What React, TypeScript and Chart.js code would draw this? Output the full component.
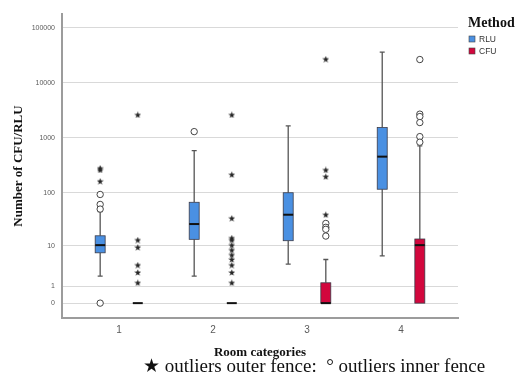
import React, { useEffect, useRef } from 'react';
import { Chart, registerables } from 'chart.js';
Chart.register(...registerables);

// ---- data ----
const categories = [1, 2, 3, 4];
const categoryLabels = ['1', '2', '3', '4'];
const yTickValues = [0, 1, 10, 100, 1000, 10000, 100000];
const seriesNames = ['RLU', 'CFU'];
const seriesColors = ['#4a90e2', '#d2073d'];

const rluLow = [2.1, 2.1, 4.1, 6.2];
const rluQ1 = [7.2, 13.4, 12.6, 116];
const rluMedian = [10.3, 26.3, 39.3, 456];
const rluQ3 = [15.7, 66.8, 100, 1540];
const rluHigh = [45, 587, 1650, 36200];

const cfuLow = [0, 0, 0, 0];
const cfuQ1 = [0, 0, 0, 0];
const cfuMedian = [0, 0, 0, 10.3];
const cfuQ3 = [0, 0, 1.34, 13.6];
const cfuHigh = [0, 0, 5.2, 715];

const rluStars = [[281, 261, 162], [], [], []];
const rluCircles = [[93, 61, 50, 0], [1300], [], []];
const cfuStars = [
  [2620, 13, 9.3, 3.9, 2.6, 1.34],
  [2620, 214, 33.7, 14.2, 13, 10.3, 8.2, 6.5, 5.2, 3.9, 2.6, 1.34],
  [26900, 261, 197, 39.3],
  [],
];
const cfuCircles = [[], [], [27, 22.8, 20.9, 15.5], [26500, 2700, 2440, 1900, 1055, 835]];

// ---- helpers ----
const T = (v: number) => Math.log10(v + 1);
const groupOffset = [-0.2, 0.2];
const boxHalfWidth = 0.053;

const groups = [
  { low: rluLow, q1: rluQ1, med: rluMedian, q3: rluQ3, high: rluHigh },
  { low: cfuLow, q1: cfuQ1, med: cfuMedian, q3: cfuQ3, high: cfuHigh },
];

function toPoints(list: number[][], g: number) {
  const pts: { x: number; y: number }[] = [];
  list.forEach((vals, i) => vals.forEach((v) => pts.push({ x: categories[i] + groupOffset[g], y: T(v) })));
  return pts;
}

function makeStar(size: number) {
  const c = document.createElement('canvas');
  c.width = size;
  c.height = size;
  const ctx = c.getContext('2d')!;
  const cx = size / 2, cy = size / 2 + 0.3;
  const ro = size / 2, ri = ro * 0.42;
  ctx.beginPath();
  for (let k = 0; k < 10; k++) {
    const r = k % 2 === 0 ? ro : ri;
    const a = -Math.PI / 2 + (k * Math.PI) / 5;
    const px = cx + r * Math.cos(a), py = cy + r * Math.sin(a);
    if (k === 0) ctx.moveTo(px, py); else ctx.lineTo(px, py);
  }
  ctx.closePath();
  ctx.fillStyle = '#262626';
  ctx.fill();
  return c;
}

const boxPlugin = {
  id: 'boxes',
  beforeDatasetsDraw(chart: any) {
    const { ctx, scales } = chart;
    const xs = scales.x, ys = scales.y;
    ctx.save();
    groups.forEach((gr, g) => {
      categories.forEach((cat, i) => {
        const cx = xs.getPixelForValue(cat + groupOffset[g]);
        const half = xs.getPixelForValue(cat + groupOffset[g] + boxHalfWidth) - cx;
        const yq1 = ys.getPixelForValue(T(gr.q1[i]));
        const yq3 = ys.getPixelForValue(T(gr.q3[i]));
        const ymed = ys.getPixelForValue(T(gr.med[i]));
        const ylo = ys.getPixelForValue(T(gr.low[i]));
        const yhi = ys.getPixelForValue(T(gr.high[i]));
        ctx.strokeStyle = '#555';
        ctx.lineWidth = 1.3;
        const cap = 2.5;
        if (gr.high[i] > gr.q3[i]) {
          ctx.beginPath();
          ctx.moveTo(cx, yq3); ctx.lineTo(cx, yhi);
          ctx.moveTo(cx - cap, yhi); ctx.lineTo(cx + cap, yhi);
          ctx.stroke();
        }
        if (gr.low[i] < gr.q1[i]) {
          ctx.beginPath();
          ctx.moveTo(cx, yq1); ctx.lineTo(cx, ylo);
          ctx.moveTo(cx - cap, ylo); ctx.lineTo(cx + cap, ylo);
          ctx.stroke();
        }
        if (gr.q3[i] > gr.q1[i]) {
          ctx.fillStyle = seriesColors[g];
          ctx.fillRect(cx - half, yq3, 2 * half, yq1 - yq3);
          ctx.strokeStyle = '#3b3b48';
          ctx.lineWidth = 0.8;
          ctx.strokeRect(cx - half, yq3, 2 * half, yq1 - yq3);
        }
        ctx.strokeStyle = '#111';
        ctx.lineWidth = 2;
        ctx.beginPath();
        ctx.moveTo(cx - half, ymed); ctx.lineTo(cx + half, ymed);
        ctx.stroke();
      });
    });
    ctx.restore();
  },
};

const legendPlugin = {
  id: 'methodLegend',
  afterDraw(chart: any) {
    const { ctx } = chart;
    ctx.save();
    ctx.textBaseline = 'middle';
    ctx.fillStyle = '#111';
    ctx.font = 'bold 14px "Liberation Serif", "Times New Roman", serif';
    ctx.fillText('Method', 468, 23);
    seriesNames.forEach((name, k) => {
      const y = 39 + k * 12;
      ctx.fillStyle = seriesColors[k];
      ctx.fillRect(469, y - 3, 6, 6);
      ctx.strokeStyle = '#444';
      ctx.lineWidth = 0.6;
      ctx.strokeRect(469, y - 3, 6, 6);
      ctx.fillStyle = '#333';
      ctx.font = '8.5px "Liberation Sans", Arial, sans-serif';
      ctx.fillText(name, 479, y + 0.5);
    });
    ctx.restore();
  },
};

export default function App() {
  const ref = useRef<HTMLCanvasElement | null>(null);
  useEffect(() => {
    if (!ref.current) return;
    const star = makeStar(7);
    const circleStyle = {
      pointStyle: 'circle',
      pointRadius: 3.2,
      pointBackgroundColor: '#fff',
      pointBorderColor: '#444',
      pointBorderWidth: 1,
    };
    const starStyle = { pointStyle: star, pointRadius: 3.5 };
    const chart = new Chart(ref.current, {
      type: 'scatter',
      data: {
        datasets: [
          { label: 'RLU outer', data: toPoints(rluStars, 0), ...starStyle },
          { label: 'RLU inner', data: toPoints(rluCircles, 0), ...circleStyle },
          { label: 'CFU outer', data: toPoints(cfuStars, 1), ...starStyle },
          { label: 'CFU inner', data: toPoints(cfuCircles, 1), ...circleStyle },
        ] as any,
      },
      options: {
        animation: false,
        responsive: false,
        layout: { padding: { top: 14, right: 58, bottom: 21, left: 0 } },
        plugins: { legend: { display: false }, tooltip: { enabled: false } },
        scales: {
          x: {
            type: 'linear',
            min: 0.394,
            max: 4.606,
            afterBuildTicks: (s: any) => {
              s.ticks = categories.map((v) => ({ value: v }));
            },
            afterFit: (s: any) => {
              s.height = 42;
            },
            ticks: {
              callback: (v: any) => categoryLabels[Math.round(Number(v)) - 1],
              font: { family: '"Liberation Sans", Arial, sans-serif', size: 10 },
              color: '#5a5a5a',
              padding: 6,
              maxRotation: 0,
            },
            grid: { color: 'rgba(0,0,0,0)', drawTicks: false },
            border: { color: '#9c9c9c', width: 2 },
            title: {
              display: true,
              text: 'Room categories',
              font: { family: '"Liberation Serif", "Times New Roman", serif', size: 13, weight: 'bold' },
              color: '#111',
              padding: { top: 0, bottom: 0 },
            },
          },
          y: {
            type: 'linear',
            min: -0.27,
            max: 5.25,
            afterBuildTicks: (s: any) => {
              s.ticks = yTickValues.map((v) => ({ value: T(v) }));
            },
            afterFit: (s: any) => {
              s.width = 62;
            },
            ticks: {
              callback: (val: any) => {
                let best = 0;
                yTickValues.forEach((v, k) => {
                  if (Math.abs(T(v) - val) < Math.abs(T(yTickValues[best]) - val)) best = k;
                });
                return String(yTickValues[best]);
              },
              font: { family: '"Liberation Sans", Arial, sans-serif', size: 7 },
              color: '#5a5a5a',
              padding: 7,
            },
            grid: { color: '#d9d9d9', lineWidth: 1, drawTicks: false },
            border: { color: '#9c9c9c', width: 2 },
            title: {
              display: true,
              text: 'Number of CFU/RLU',
              font: { family: '"Liberation Serif", "Times New Roman", serif', size: 13, weight: 'bold' },
              color: '#111',
              padding: { top: 11, bottom: 0 },
            },
          },
        },
      } as any,
      plugins: [boxPlugin, legendPlugin],
    });
    return () => chart.destroy();
  }, []);

  return (
    <div style={{ position: 'fixed', left: 0, top: 0, width: 516, height: 381, background: '#fff' }}>
      <canvas ref={ref} width={516} height={381} style={{ display: 'block', width: 516, height: 381 }} />
      <div
        style={{
          position: 'absolute',
          left: 143,
          top: 356,
          fontFamily: '"Liberation Serif", "Times New Roman", serif',
          fontSize: 19,
          lineHeight: '20px',
          whiteSpace: 'nowrap',
          color: '#111',
        }}
      >
        ★ outliers outer fence:&nbsp; ° outliers inner fence
      </div>
    </div>
  );
}
